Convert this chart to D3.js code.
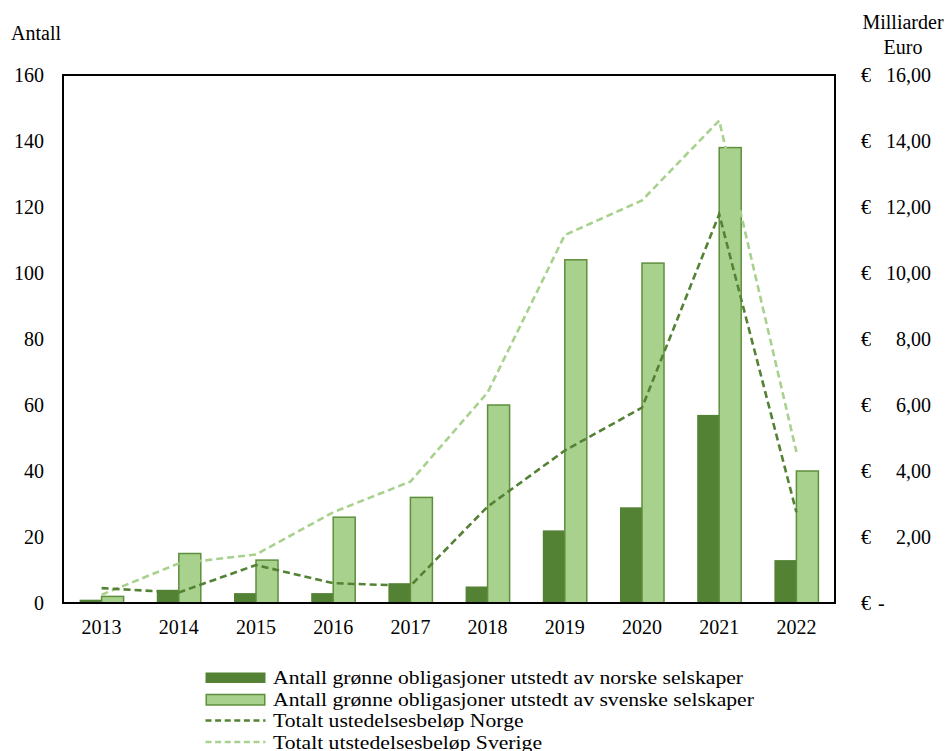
<!DOCTYPE html>
<html>
<head>
<meta charset="utf-8">
<script src="https://cdn.jsdelivr.net/npm/d3@7/dist/d3.min.js"></script>
<style>
  html, body { margin: 0; padding: 0; background: #fff; }
  svg { display: block; font-family: "Liberation Serif", "Times New Roman", serif; }
</style>
</head>
<body>
<svg id="chart" width="949" height="751"></svg>
<script>
// Green bonds: counts per year (left axis) and total issued amount (right axis, bn EUR)
const years = ["2013", "2014", "2015", "2016", "2017", "2018", "2019", "2020", "2021", "2022"];
const countNorway = [1, 4, 3, 3, 6, 5, 22, 29, 57, 13];
const countSweden = [2, 15, 13, 26, 32, 60, 104, 103, 138, 40];
const amountNorway = [0.45, 0.32, 1.15, 0.6, 0.52, 2.92, 4.62, 5.92, 11.78, 2.75];
const amountSweden = [0.25, 1.2, 1.47, 2.75, 3.68, 6.38, 11.15, 12.2, 14.62, 4.58];
const leftTicks = [0, 20, 40, 60, 80, 100, 120, 140, 160];
const rightTicks = [0, 2, 4, 6, 8, 10, 12, 14, 16];
const legendLabels = [
  "Antall grønne obligasjoner utstedt av norske selskaper",
  "Antall grønne obligasjoner utstedt av svenske selskaper",
  "Totalt ustedelsesbeløp Norge",
  "Totalt utstedelsesbeløp Sverige"
];

const darkGreen = "#548235";
const lightGreen = "#A9D18E";
const barEdge = "#5E8F3C";

const svg = d3.select("#chart");
const plot = { left: 63, right: 835, top: 75, bottom: 603 };

const x = d3.scaleBand().domain(years).range([plot.left, plot.right]).padding(0);
const xInner = d3.scaleBand().domain(["no", "se"])
  .range([x.bandwidth() * 0.215, x.bandwidth() * 0.785]).padding(0);
const yLeft = d3.scaleLinear().domain([0, 160]).range([plot.bottom, plot.top]);
const yRight = d3.scaleLinear().domain([0, 16]).range([plot.bottom, plot.top]);

// Bars
const g = svg.append("g");
g.selectAll("rect.no").data(years).join("rect")
  .attr("class", "no")
  .attr("x", (d) => x(d) + xInner("no"))
  .attr("width", xInner.bandwidth())
  .attr("y", (d, i) => yLeft(countNorway[i]))
  .attr("height", (d, i) => yLeft(0) - yLeft(countNorway[i]))
  .attr("fill", darkGreen);

g.selectAll("rect.se").data(years).join("rect")
  .attr("class", "se")
  .attr("x", (d) => x(d) + xInner("se"))
  .attr("width", xInner.bandwidth())
  .attr("y", (d, i) => yLeft(countSweden[i]))
  .attr("height", (d, i) => yLeft(0) - yLeft(countSweden[i]))
  .attr("fill", lightGreen)
  .attr("stroke", barEdge)
  .attr("stroke-width", 1.5);

// Dashed amount lines
const line = d3.line()
  .x((d, i) => x(years[i]) + x.bandwidth() / 2)
  .y((d) => yRight(d));

svg.append("path").datum(amountSweden)
  .attr("d", line)
  .attr("fill", "none")
  .attr("stroke", lightGreen)
  .attr("stroke-width", 2.6)
  .attr("stroke-dasharray", "7,4");

svg.append("path").datum(amountNorway)
  .attr("d", line)
  .attr("fill", "none")
  .attr("stroke", darkGreen)
  .attr("stroke-width", 2.6)
  .attr("stroke-dasharray", "7,4");

// Plot frame
svg.append("rect")
  .attr("x", plot.left).attr("y", plot.top)
  .attr("width", plot.right - plot.left).attr("height", plot.bottom - plot.top)
  .attr("fill", "none").attr("stroke", "#000").attr("stroke-width", 2);

// Axes
const fontSize = 20;
const axisLeft = svg.append("g")
  .attr("transform", `translate(${plot.left},0)`)
  .call(d3.axisLeft(yLeft).tickValues(leftTicks).tickSize(0).tickPadding(19));
axisLeft.select(".domain").remove();
axisLeft.selectAll("text").attr("font-size", fontSize).attr("font-family", "Liberation Serif").attr("fill", "#000");

const axisBottom = svg.append("g")
  .attr("transform", `translate(0,${plot.bottom})`)
  .call(d3.axisBottom(x).tickSize(0).tickPadding(17));
axisBottom.select(".domain").remove();
axisBottom.selectAll("text").attr("font-size", fontSize).attr("font-family", "Liberation Serif").attr("fill", "#000");

const axisRight = svg.append("g")
  .attr("transform", `translate(${plot.right},0)`)
  .call(d3.axisRight(yRight).tickValues(rightTicks).tickSize(0));
axisRight.select(".domain").remove();
axisRight.selectAll("text").each(function (d) {
  const t = d3.select(this).text("")
    .attr("font-size", fontSize).attr("font-family", "Liberation Serif")
    .attr("fill", "#000").attr("text-anchor", "start").attr("x", 26);
  t.append("tspan").attr("x", 26).text("€");
  if (d === 0) {
    t.append("tspan").attr("x", 43).text("-");
  } else {
    t.append("tspan").attr("x", 96).attr("text-anchor", "end")
      .text(d3.format(".2f")(d).replace(".", ","));
  }
});

// Axis titles
svg.append("text").attr("x", 11).attr("y", 40)
  .attr("font-size", fontSize).text("Antall");
svg.append("text").attr("x", 903).attr("y", 29).attr("text-anchor", "middle")
  .attr("font-size", fontSize).text("Milliarder");
svg.append("text").attr("x", 903).attr("y", 54).attr("text-anchor", "middle")
  .attr("font-size", fontSize).text("Euro");

// Legend (labels set slightly wide)
const legend = svg.append("g");
const rowY = [677.5, 699.5, 720.5, 742];
const swX = 205.5, swW = 60, textX = 273;
legend.append("rect").attr("x", swX).attr("y", rowY[0] - 5).attr("width", swW).attr("height", 10.5)
  .attr("fill", darkGreen);
legend.append("rect").attr("x", swX + 0.75).attr("y", rowY[1] - 5).attr("width", swW - 1.5).attr("height", 10.5)
  .attr("fill", lightGreen).attr("stroke", barEdge).attr("stroke-width", 1.5);
legend.append("line").attr("x1", swX).attr("x2", swX + swW).attr("y1", rowY[2]).attr("y2", rowY[2])
  .attr("stroke", darkGreen).attr("stroke-width", 2.6).attr("stroke-dasharray", "6,3.6");
legend.append("line").attr("x1", swX).attr("x2", swX + swW).attr("y1", rowY[3]).attr("y2", rowY[3])
  .attr("stroke", lightGreen).attr("stroke-width", 2.6).attr("stroke-dasharray", "6,3.6");
legend.selectAll("text.lbl").data(legendLabels).join("text")
  .attr("class", "lbl")
  .attr("transform", (d, i) => `translate(${textX},${rowY[i]}) scale(1.14,1)`)
  .attr("dy", "0.35em")
  .attr("font-size", 19)
  .text((d) => d);
</script>
</body>
</html>
